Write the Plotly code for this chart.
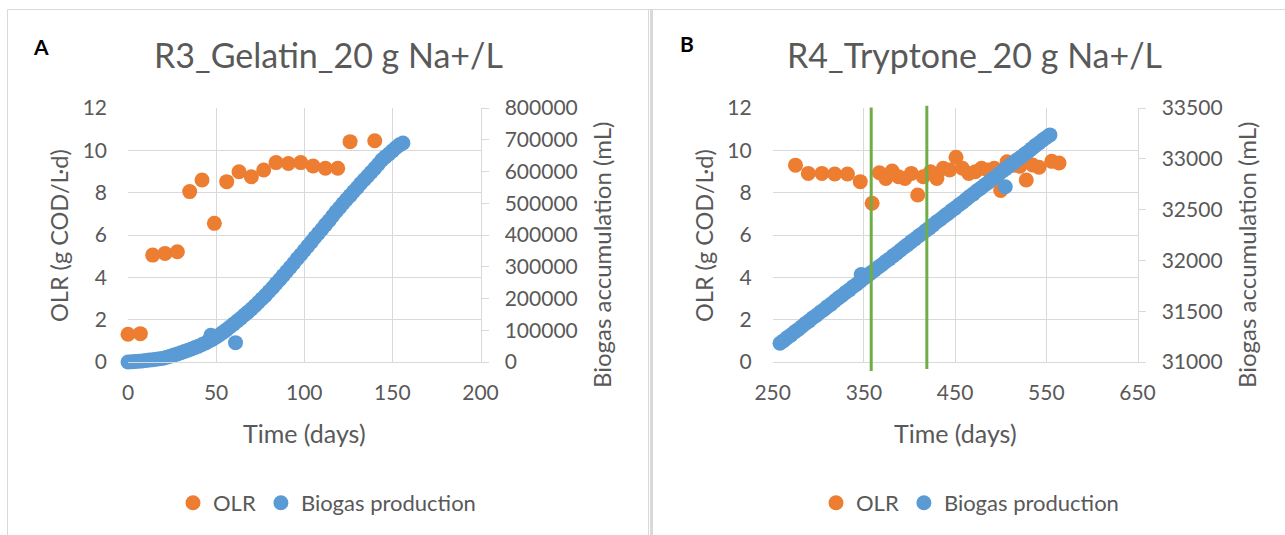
import plotly.graph_objects as go

# ---- Reactor R3 (gelatin) ----
r3_olr_days = [0, 7, 14, 21, 28, 35, 42, 49, 56, 63, 70, 77, 84, 91, 98, 105, 112, 119, 126, 140]
r3_olr = [1.31, 1.34, 5.05, 5.13, 5.21, 8.05, 8.60, 6.55, 8.52, 8.99, 8.75, 9.07, 9.42, 9.38,
          9.42, 9.26, 9.15, 9.15, 10.41, 10.45]

r3_gas_days = [0, 2, 4, 6, 8, 10, 12, 14, 16, 18, 20, 22, 24, 26, 28, 30, 32, 34, 36, 38, 40,
               42, 44, 46, 47, 48, 50, 52, 54, 56, 58, 60, 61, 62, 64, 66, 68, 70, 72, 74, 76,
               78, 80, 82, 84, 86, 88, 90, 92, 94, 96, 98, 100, 102, 104, 106, 108, 110, 112,
               114, 116, 118, 120, 122, 124, 126, 128, 130, 132, 134, 136, 138, 140, 142, 144,
               146, 148, 150, 152, 154, 156]
r3_gas = [0, 500, 1500, 2500, 3500, 5000, 6000, 7000, 9000, 10500, 12000, 15000, 18000, 22000,
          25000, 29000, 33000, 37000, 41000, 45500, 50000, 55000, 60000, 66000, 84000, 72000,
          79000, 86000, 94000, 102000, 111000, 120000, 61000, 129000, 138000, 148000, 157000,
          167000, 177000, 188000, 199000, 210000, 222000, 234000, 247000, 259000, 272000,
          285000, 298000, 311000, 325000, 338000, 351000, 365000, 378000, 392000, 405000,
          418000, 432000, 445000, 459000, 473000, 486000, 499000, 512000, 524000, 537000,
          549000, 562000, 574000, 586000, 598000, 610000, 623000, 636000, 646000, 655000,
          665000, 675000, 684000, 690000]

# ---- Reactor R4 (tryptone) ----
r4_olr_days = [275, 289, 304, 318, 332, 346, 359, 367, 374, 381, 388, 395, 402, 409, 415, 423,
               430, 437, 444, 451, 458, 465, 472, 479, 486, 493, 500, 507, 514, 521, 528, 535,
               542, 556, 564]
r4_olr = [9.30, 8.91, 8.91, 8.88, 8.88, 8.52, 7.50, 8.94, 8.67, 9.02, 8.75, 8.67, 8.91, 7.89,
          8.75, 8.99, 8.67, 9.15, 9.07, 9.67, 9.15, 8.91, 8.99, 9.15, 9.07, 9.15, 8.10, 9.46,
          9.30, 9.25, 8.60, 9.31, 9.20, 9.48, 9.40]

r4_gas_days = [258, 262, 266, 270, 274, 278, 282, 286, 290, 294, 298, 302, 306, 310, 314, 318,
               322, 326, 330, 334, 338, 342, 346, 347, 350, 354, 358, 362, 366, 370, 374, 378,
               382, 386, 390, 394, 398, 402, 406, 410, 414, 418, 422, 426, 430, 434, 438, 442,
               446, 450, 454, 458, 462, 466, 470, 474, 478, 482, 486, 490, 494, 498, 502, 505,
               506, 510, 514, 518, 522, 526, 530, 534, 538, 542, 546, 550, 554]
r4_gas = [31185, 31210, 31240, 31265, 31295, 31320, 31350, 31380, 31405, 31435, 31460, 31490,
          31515, 31545, 31570, 31600, 31630, 31655, 31685, 31710, 31740, 31765, 31795, 31860,
          31825, 31850, 31880, 31905, 31935, 31960, 31990, 32015, 32045, 32070, 32100, 32130,
          32155, 32185, 32210, 32240, 32265, 32295, 32320, 32350, 32380, 32405, 32435, 32460,
          32490, 32515, 32545, 32570, 32600, 32630, 32655, 32685, 32710, 32740, 32765, 32795,
          32820, 32850, 32880, 32725, 32905, 32935, 32960, 32990, 33015, 33045, 33070, 33100,
          33130, 33155, 33185, 33210, 33235]

# days marked with vertical reference lines on the R4 panel
r4_event_days = [358, 419]

# ---- styling ----
W, H = 1285, 535
FONT = "Lato"
GREY_TXT = "#595959"
GRID = "#d9d9d9"
ORANGE = "#ED7D31"
BLUE = "#5B9BD5"
GREEN = "#70AD47"
MS = 15


def px_x(v):
    return v / W


def px_y(v):
    return 1 - v / H


fig = go.Figure()

fig.add_trace(go.Scatter(x=r3_olr_days, y=r3_olr, mode="markers", name="OLR",
                         marker=dict(color=ORANGE, size=MS), xaxis="x", yaxis="y",
                         legend="legend", cliponaxis=False))
fig.add_trace(go.Scatter(x=r3_gas_days, y=r3_gas, mode="markers", name="Biogas production",
                         marker=dict(color=BLUE, size=MS), xaxis="x", yaxis="y2",
                         legend="legend", cliponaxis=False))
fig.add_trace(go.Scatter(x=r4_olr_days, y=r4_olr, mode="markers", name="OLR",
                         marker=dict(color=ORANGE, size=MS), xaxis="x2", yaxis="y3",
                         legend="legend2", cliponaxis=False))
fig.add_trace(go.Scatter(x=r4_gas_days, y=r4_gas, mode="markers", name="Biogas production",
                         marker=dict(color=BLUE, size=MS), xaxis="x2", yaxis="y4",
                         legend="legend2", cliponaxis=False))

ydom = [px_y(362), px_y(108)]
tickfont = dict(family=FONT, size=21, color=GREY_TXT)

common_x = dict(showgrid=True, gridcolor=GRID, gridwidth=1, zeroline=False, showline=True,
                linecolor=GRID, linewidth=1, ticks="", tickfont=tickfont,
                ticklabelstandoff=12, fixedrange=True, automargin=False)
common_yl = dict(domain=ydom, range=[0, 12], dtick=2, showgrid=True, gridcolor=GRID,
                 zeroline=False, showline=False, ticks="", tickfont=tickfont,
                 ticklabelstandoff=20, automargin=False)
common_yr = dict(domain=ydom, side="right", showgrid=False, zeroline=False, showline=True,
                 linecolor=GRID, linewidth=1, ticks="outside", ticklen=7, tickcolor=GRID,
                 tickformat="d", tickfont=tickfont, ticklabelstandoff=12, automargin=False)

legend_style = dict(orientation="h", xanchor="left", yanchor="middle",
                    font=dict(family=FONT, size=22, color=GREY_TXT), itemwidth=30,
                    bgcolor="rgba(0,0,0,0)")

fig.update_layout(
    width=W, height=H,
    margin=dict(l=0, r=0, t=0, b=0, autoexpand=False),
    paper_bgcolor="white", plot_bgcolor="white",
    font=dict(family=FONT, color=GREY_TXT),
    xaxis=dict(domain=[px_x(128), px_x(480.5)], range=[0, 200], dtick=50, anchor="y",
               **common_x),
    yaxis=dict(anchor="x", **common_yl),
    yaxis2=dict(anchor="x", overlaying="y", range=[0, 800000], dtick=100000, **common_yr),
    xaxis2=dict(domain=[px_x(772.7), px_x(1137.5)], range=[250, 650], tick0=250, dtick=100,
                anchor="y3", **common_x),
    yaxis3=dict(anchor="x2", **common_yl),
    yaxis4=dict(anchor="x2", overlaying="y3", range=[31000, 33500], dtick=500, **common_yr),
    legend=dict(x=px_x(173), y=px_y(503), **legend_style),
    legend2=dict(x=px_x(816), y=px_y(503), **legend_style),
)


def label(text, cx, cy, size, color=GREY_TXT, angle=0):
    return dict(text=text, x=px_x(cx), y=px_y(cy), xref="paper", yref="paper",
                xanchor="center", yanchor="middle", showarrow=False, textangle=angle,
                font=dict(family=FONT, size=size, color=color))


ann = [
    # panel letters
    label("<b>A</b>", 40.5, 47, 21, "black"),
    label("<b>B</b>", 686.5, 44, 21, "black"),
    # chart titles
    label("R3_Gelatin_20 g Na+/L", 328.7, 54.6, 34),
    label("R4_Tryptone_20 g Na+/L", 974.4, 54.6, 34),
]
# axis titles
for cx in (304, 955):
    ann.append(label("Time (days)", cx, 433, 25))
for cx in (59, 704):
    ann.append(label("OLR (g COD/L·d)", cx, 236, 23.5, angle=-90))
for cx in (602, 1247):
    ann.append(label("Biogas accumulation (mL)", cx, 255, 24, angle=-90))

shapes = []
# chart frames
shapes.append(dict(type="rect", xref="paper", yref="paper", x0=px_x(7.5), x1=px_x(648.5),
                   y0=-0.05, y1=px_y(9.5), line=dict(color=GRID, width=1), layer="below"))
shapes.append(dict(type="line", xref="paper", yref="paper", x0=px_x(648.5), x1=1.01,
                   y0=px_y(9.5), y1=px_y(9.5), line=dict(color=GRID, width=1), layer="below"))
shapes.append(dict(type="line", xref="paper", yref="paper", x0=px_x(651.5), x1=px_x(651.5),
                   y0=-0.05, y1=px_y(9.5), line=dict(color=GRID, width=3), layer="below"))
# event lines on R4
for d, (ylo, yhi) in zip(r4_event_days, [(371, 107.5), (369, 105.8)]):
    shapes.append(dict(type="line", xref="x2", yref="paper", x0=d, x1=d,
                       y0=px_y(ylo), y1=px_y(yhi), line=dict(color=GREEN, width=3),
                       layer="above"))

fig.update_layout(annotations=ann, shapes=shapes)

fig.write_html(
    "out.html",
    post_script="document.body.style.margin='0';document.body.style.padding='0';"
                "document.body.style.overflow='hidden';",
)
